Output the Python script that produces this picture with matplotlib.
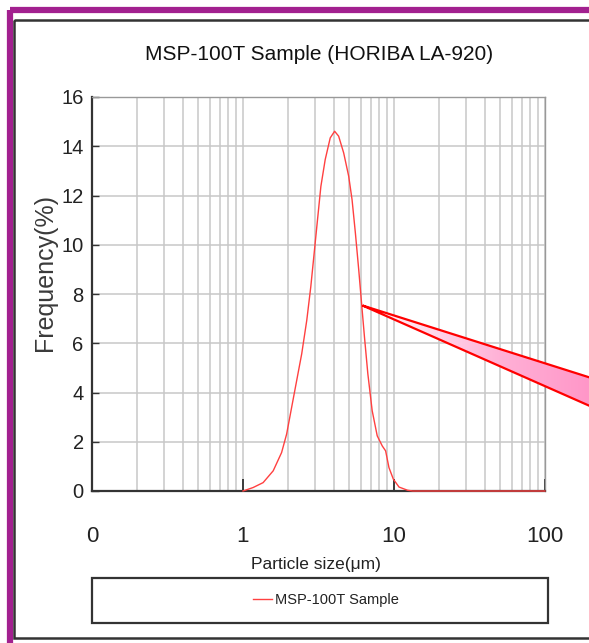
import numpy as np
import matplotlib
matplotlib.use("Agg")
import matplotlib.pyplot as plt
from matplotlib.patches import Polygon, Rectangle
from matplotlib.ticker import FixedLocator, NullFormatter, FixedFormatter
from matplotlib.colors import LinearSegmentedColormap

# ---- data ----
particle_size = [1.0, 1.166, 1.359, 1.585, 1.801, 1.945, 2.10, 2.268, 2.448,
                 2.644, 2.811, 2.959, 3.114, 3.279, 3.503, 3.782, 4.044, 4.299,
                 4.642, 5.012, 5.275, 5.551, 5.843, 6.087, 6.375, 6.71, 7.17,
                 7.743, 8.36, 8.80, 9.26, 9.90, 10.8, 12.3, 13.3, 20.0, 50.0, 100.0]
frequency = [0.0, 0.14, 0.34, 0.82, 1.56, 2.31, 3.40, 4.49, 5.57,
             6.93, 8.29, 9.65, 11.01, 12.37, 13.46, 14.34, 14.61, 14.41,
             13.73, 12.78, 11.83, 10.47, 8.97, 7.68, 6.25, 4.76, 3.26,
             2.24, 1.83, 1.63, 0.95, 0.48, 0.16, 0.03, 0.0, 0.0, 0.0, 0.0]
series_name = "MSP-100T Sample"
x_tick_values = [0.1, 1, 10, 100]
x_tick_labels = ["0", "1", "10", "100"]
y_ticks = [0, 2, 4, 6, 8, 10, 12, 14, 16]

FONT = ["Liberation Sans", "DejaVu Sans"]

W, H = 589, 643
fig = plt.figure(figsize=(W / 100, H / 100), dpi=100)
fig.patch.set_facecolor("white")

def fx(px):
    return px / W

def fy(py):
    return 1 - py / H

# main axes
ax = fig.add_axes([fx(92), fy(491), fx(545) - fx(92), fy(97) - fy(491)])
ax.set_xscale("log")
ax.set_xlim(0.1, 100)
ax.set_ylim(0, 16)

ax.plot(particle_size, frequency, color="#ff4040", lw=1.0, zorder=5,
        clip_on=False, solid_joinstyle="round")

# grid
ax.xaxis.set_major_locator(FixedLocator(x_tick_values))
ax.xaxis.set_major_formatter(FixedFormatter(x_tick_labels))
minor = [m * 10.0 ** e for e in (-1, 0, 1) for m in range(2, 10)]
ax.xaxis.set_minor_locator(FixedLocator(minor))
ax.xaxis.set_minor_formatter(NullFormatter())
ax.set_yticks(y_ticks)
ax.grid(True, which="both", axis="x", color="#c8c8c8", lw=1.1)
ax.grid(True, which="major", axis="y", color="#c8c8c8", lw=1.1)
ax.set_axisbelow(True)

ax.tick_params(axis="x", which="major", direction="in", length=9, width=1.2,
               color="#222222", pad=25, labelsize=16, labelcolor="#222222")
ax.tick_params(axis="x", which="minor", length=0)
ax.tick_params(axis="y", direction="in", length=5, width=1.0, color="#333333",
               pad=6, labelsize=14.5, labelcolor="#222222")
for lab in ax.get_xticklabels() + ax.get_yticklabels():
    lab.set_family(FONT)

for s in ("left", "bottom"):
    ax.spines[s].set_color("#333333")
    ax.spines[s].set_linewidth(1.6)
for s in ("top", "right"):
    ax.spines[s].set_color("#999999")
    ax.spines[s].set_linewidth(1.0)

fig.text(fx(316), fy(569), "Particle size(\u03bcm)", ha="center", va="baseline",
         family=FONT, fontsize=12.5, color="#222222")
fig.text(fx(45), fy(273), "Frequency(%)", rotation=90, ha="center", va="center",
         family=FONT, fontsize=18, color="#3a3a3a")
fig.text(fx(319), fy(55), "MSP-100T Sample (HORIBA LA-920)", ha="center",
         va="center", family=FONT, fontsize=15, color="#111111")

# overlay for frame, callout, legend box
ov = fig.add_axes([0, 0, 1, 1], zorder=10)
ov.set_xlim(0, W)
ov.set_ylim(H, 0)
ov.axis("off")
ov.patch.set_alpha(0)

# purple outer frame and dark inner frame
ov.add_patch(Rectangle((9.5, 10.2), 700, 700, fill=False, edgecolor="#a2208f", lw=4.5))
ov.add_patch(Rectangle((14.3, 19.5), 700, 618.3, fill=False, edgecolor="#333333", lw=1.8))

# callout wedge with gradient
tip = (362.5, 305.5)
xr = 640
up = (xr, tip[1] + 0.3168 * (xr - tip[0]))
lo = (xr, tip[1] + 0.442 * (xr - tip[0]))
poly = Polygon([tip, up, lo], closed=True, facecolor="none", edgecolor="#ff0000",
               lw=1.6, joinstyle="miter", zorder=3)
ov.add_patch(poly)
grad = np.linspace(0, 1, 256).reshape(1, -1)
cmap = LinearSegmentedColormap.from_list("pk", ["#ffffff", "#ffb0d6", "#ff88c0"])
im = ov.imshow(grad, cmap=cmap, extent=[tip[0], xr, lo[1], tip[1] - 2],
               aspect="auto", zorder=2, interpolation="bilinear")
clip = Polygon([tip, up, lo], closed=True, transform=ov.transData)
im.set_clip_path(clip)
ov.set_xlim(0, W)
ov.set_ylim(H, 0)

# legend box
ov.add_patch(Rectangle((92, 577.5), 455.5, 45, fill=False, edgecolor="#333333", lw=1.6))
handle, = ax.plot([], [], color="#ff4040", lw=1.0)
leg = fig.legend([handle], [series_name], loc="center",
                 bbox_to_anchor=(fx(326), fy(600)), frameon=False,
                 prop={"family": FONT, "size": 10.5}, handlelength=1.3,
                 handletextpad=0.25, borderpad=0)
for t in leg.get_texts():
    t.set_color("#222222")

fig.savefig("out.png", dpi=100)
